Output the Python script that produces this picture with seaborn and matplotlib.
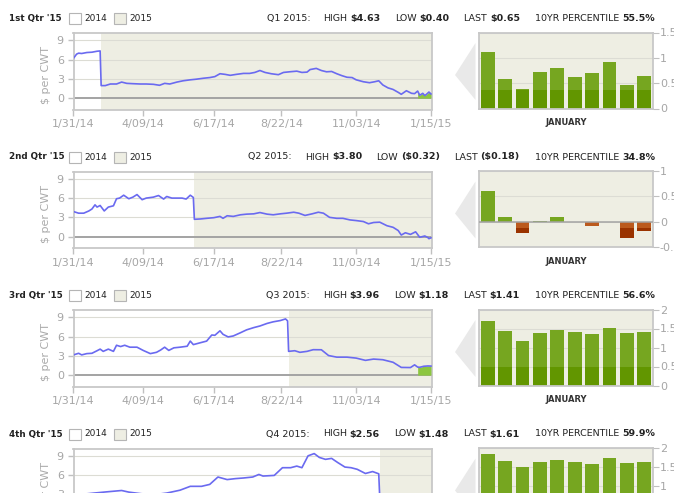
import numpy as np
import pandas as pd
import matplotlib
matplotlib.use('Agg')
import matplotlib.pyplot as plt
from matplotlib.patches import Rectangle, Polygon
import seaborn as sns

# ---------------- data ----------------
quarters = ["1st Qtr '15", "2nd Qtr '15", "3rd Qtr '15", "4th Qtr '15"]
contracts = ['Q1 2015:', 'Q2 2015:', 'Q3 2015:', 'Q4 2015:']
highs = ['$4.63', '$3.80', '$3.96', '$2.56']
lows = ['$0.40', '($0.32)', '$1.18', '$1.48']
lasts = ['$0.65', '($0.18)', '$1.41', '$1.61']
pctiles = ['55.5%', '34.8%', '56.6%', '59.9%']
legend_years = ['2014', '2015']

# date where the chart rolls from the 2014 contract to the 2015 contract
roll_dates = ['2014-02-27', '2014-05-29', '2014-08-29', '2014-11-26']

tick_dates = ['2014-01-31', '2014-04-09', '2014-06-17', '2014-08-22', '2014-11-03', '2015-01-15']
tick_labels = ['1/31/14', '4/09/14', '6/17/14', '8/22/14', '11/03/14', '1/15/15']

# days after 1/31/14 and $ per CWT
days_q1 = [0, 3, 5, 8, 13, 18, 23, 26, 27, 31, 36, 42, 47, 52, 58, 65, 71, 78, 84, 89, 94,
           101, 107, 114, 120, 127, 133, 138, 143, 148, 153, 159, 166, 172, 177, 182, 187,
           193, 200, 205, 211, 218, 223, 228, 231, 237, 242, 247, 252, 257, 262, 267, 272,
           276, 283, 289, 294, 298, 302, 307, 312, 317, 320, 325, 330, 333, 336, 338, 341,
           343, 345, 347, 349]
vals_q1 = [6.2, 6.85, 7.0, 6.95, 7.1, 7.15, 7.3, 7.35, 1.95, 1.95, 2.2, 2.2, 2.5, 2.3, 2.25,
           2.2, 2.2, 2.15, 2.0, 2.3, 2.2, 2.5, 2.7, 2.85, 2.95, 3.1, 3.2, 3.35, 3.8, 3.7, 3.55,
           3.7, 3.85, 3.85, 4.0, 4.3, 4.0, 3.8, 3.65, 4.0, 4.1, 4.2, 4.0, 4.05, 4.45, 4.63, 4.3,
           4.1, 4.15, 3.8, 3.5, 3.25, 3.2, 2.85, 2.55, 2.4, 2.55, 2.7, 2.05, 1.6, 1.35, 0.9,
           0.6, 1.15, 0.75, 0.7, 1.1, 0.45, 0.75, 0.40, 0.65, 0.95, 0.65]

days_q2 = [0, 5, 10, 15, 18, 21, 23, 26, 30, 34, 39, 42, 45, 49, 54, 58, 62, 67, 71, 78, 83,
           88, 91, 96, 101, 106, 110, 114, 117, 118, 124, 130, 137, 143, 146, 150, 156, 163,
           169, 176, 182, 189, 195, 202, 208, 215, 220, 226, 233, 239, 244, 250, 257, 263,
           270, 276, 283, 288, 293, 299, 306, 312, 317, 320, 324, 329, 334, 338, 343, 346,
           347, 349]
vals_q2 = [3.9, 3.65, 3.65, 4.0, 4.3, 4.95, 4.6, 4.85, 4.0, 4.6, 4.8, 5.9, 6.0, 6.45, 5.9,
           6.15, 6.55, 5.75, 6.0, 6.15, 6.4, 5.85, 6.25, 6.0, 6.0, 6.0, 5.85, 6.45, 6.1, 2.7,
           2.75, 2.85, 2.95, 3.15, 2.85, 3.25, 3.15, 3.4, 3.5, 3.55, 3.75, 3.5, 3.4, 3.55,
           3.65, 3.8, 3.65, 3.3, 3.55, 3.8, 3.65, 3.0, 2.85, 2.85, 2.6, 2.5, 2.35, 2.0, 2.2,
           2.25, 1.7, 1.45, 0.95, 0.25, 0.6, 0.35, 0.75, -0.1, 0.1, -0.15, -0.32, -0.18]

days_q3 = [0, 5, 8, 13, 18, 23, 26, 29, 34, 39, 42, 46, 50, 55, 62, 68, 75, 81, 85, 89, 93,
           98, 104, 111, 114, 117, 124, 130, 135, 138, 143, 146, 151, 156, 163, 169, 176, 182,
           189, 195, 202, 207, 209, 210, 216, 221, 228, 234, 242, 249, 257, 267, 276, 285,
           293, 302, 312, 320, 329, 333, 336, 338, 342, 346, 349]
vals_q3 = [3.15, 3.4, 3.15, 3.35, 3.4, 3.8, 4.05, 3.7, 4.05, 3.7, 4.65, 4.45, 4.65, 4.35,
           4.35, 3.85, 3.35, 3.55, 3.9, 4.35, 3.85, 4.25, 4.35, 4.5, 5.3, 4.75, 5.05, 5.3,
           6.25, 6.2, 6.9, 6.35, 5.95, 6.1, 6.6, 7.05, 7.4, 7.65, 8.05, 8.3, 8.5, 8.75, 8.45,
           3.7, 3.8, 3.55, 3.7, 3.96, 3.95, 3.05, 2.8, 2.8, 2.65, 2.3, 2.5, 2.4, 2.0, 1.2,
           1.18, 1.6, 1.25, 1.22, 1.38, 1.43, 1.41]

days_q4 = [0, 8, 20, 33, 47, 54, 66, 79, 91, 104, 114, 125, 133, 141, 150, 158, 166, 175,
           181, 185, 196, 204, 212, 218, 223, 229, 235, 240, 246, 252, 258, 265, 271, 277,
           285, 292, 298, 299, 305, 312, 320, 328, 336, 342, 349]
vals_q4 = [2.9, 3.0, 3.2, 3.4, 3.6, 3.35, 3.1, 2.95, 3.2, 3.65, 4.25, 4.25, 4.55, 5.7, 5.3,
           5.45, 5.55, 5.7, 6.1, 5.85, 5.95, 7.15, 7.15, 7.4, 7.15, 9.0, 9.35, 8.75, 8.45,
           8.6, 7.95, 7.25, 7.15, 6.9, 6.25, 6.55, 6.2, 2.45, 2.56, 2.3, 1.9, 1.48, 1.7, 1.55,
           1.61]

# January value of the spread, last 10 years
years = ['2005', '2006', '2007', '2008', '2009', '2010', '2011', '2012', '2013', '2014']
jan_q1 = [1.12, 0.58, 0.38, 0.72, 0.80, 0.62, 0.70, 0.92, 0.46, 0.64]
jan_q2 = [0.60, 0.10, -0.22, 0.02, 0.10, 0.0, -0.08, 0.0, -0.33, -0.19]
jan_q3 = [1.71, 1.43, 1.17, 1.37, 1.45, 1.40, 1.35, 1.51, 1.37, 1.40]
jan_q4 = [1.85, 1.65, 1.49, 1.62, 1.68, 1.62, 1.57, 1.73, 1.60, 1.62]
bar_lims = [(0, 1.5), (-0.5, 1), (0, 2), (0, 2)]
bar_ticks = [[0, 0.5, 1, 1.5], [-0.5, 0, 0.5, 1], [0, 0.5, 1, 1.5, 2], [0, 0.5, 1, 1.5, 2]]

line_days = [days_q1, days_q2, days_q3, days_q4]
line_vals = [vals_q1, vals_q2, vals_q3, vals_q4]
jan_vals = [jan_q1, jan_q2, jan_q3, jan_q4]

# ---------------- style ----------------
BEIGE = '#eeeee3'
BLUE = '#6a6af0'
FILL_GREEN = '#8cc63f'
GREEN_LT = '#76a620'
GREEN_DK = '#629600'
BROWN_LT = '#bb5a1e'
BROWN_DK = '#9a3300'
FRAME = '#c8c8c8'
TICK_COL = '#a6a6a6'
TEXT = '#222222'

W, H = 674, 493
ROW = 138.5
base = pd.Timestamp('2014-01-31')

fig = plt.figure(figsize=(W / 100, H / 100), dpi=100)
renderer = fig.canvas.get_renderer()


def fx(x):
    return x / W


def fy(y):
    return 1 - y / H


def rect(l, t, r, b):
    return [l / W, 1 - b / H, (r - l) / W, (b - t) / H]


def style_frame(ax):
    for s in ax.spines.values():
        s.set_color(FRAME)
        s.set_linewidth(1.3)


def draw_header(i, off):
    y = 18.5 + off
    fig.text(fx(9), fy(y), quarters[i], fontsize=6.3, fontweight='bold', va='center', color=TEXT)
    for (bx, tx), fc, lab in zip([(69, 84), (114, 129)], ['white', BEIGE], legend_years):
        fig.add_artist(Rectangle((fx(bx), fy(y + 5.5)), 12 / W, 11 / H, transform=fig.transFigure,
                                 fc=fc, ec='#b5b5b5', lw=0.8))
        fig.text(fx(tx), fy(y), lab, fontsize=6.5, va='center', color=TEXT)

    pieces = [(contracts[i], False), ('HIGH', False), (highs[i], True), ('LOW', False),
              (lows[i], True), ('LAST', False), (lasts[i], True),
              ('10YR PERCENTILE', False), (pctiles[i], True)]
    gaps = [0, 13, 3, 14, 3, 14, 3, 15, 3]
    arts = [fig.text(0, fy(y), t, fontsize=6.8, fontweight='bold' if b else 'normal',
                     va='center', color=TEXT) for t, b in pieces]
    widths = [a.get_window_extent(renderer).width for a in arts]
    x = 655 - sum(widths) - sum(gaps)
    for a, w, g in zip(arts, widths, gaps):
        x += g
        a.set_x(fx(x))
        x += w


def draw_line(ax, days, vals, roll):
    d = base + pd.to_timedelta(days, unit='D')
    v = np.array(vals, dtype=float)
    end = base + pd.Timedelta(days=350)
    ax.set_facecolor('white')
    ax.axvspan(pd.Timestamp(roll), end, color=BEIGE, lw=0, zorder=0)
    for g in [3, 6, 9]:
        ax.axhline(g, color='#dcdcd4', lw=0.8, zorder=1)
    ax.axhline(0, color='#a3a3a3', lw=1.4, zorder=2)
    jan = d >= pd.Timestamp('2015-01-01')
    if v[-1] > 0:
        ax.fill_between(d[jan], 0, v[jan], color=FILL_GREEN, lw=0, zorder=3)
    sns.lineplot(x=d, y=v, ax=ax, color=BLUE, lw=1.2, zorder=4)
    ax.set_xlim(base, end)
    ax.set_ylim(-1.77, 10.14)
    ax.set_yticks([0, 3, 6, 9])
    ax.set_xticks(pd.to_datetime(tick_dates))
    ax.set_xticklabels(tick_labels)
    ax.tick_params(colors='#c0c0c0', labelcolor=TICK_COL, labelsize=8, length=4, width=1, pad=3)
    ax.set_xlabel('')
    ax.set_ylabel('$ per CWT', fontsize=8, color='#aaaaaa')
    ax.yaxis.set_label_coords(-0.062, 0.45)
    style_frame(ax)


def draw_bars(ax, vals, lims, ticks):
    lo, hi = lims
    v = np.array(vals, dtype=float)
    thr = lo + 0.25 * (hi - lo)
    outer_cols = np.where(v >= 0, GREEN_LT, BROWN_DK)
    inner = np.where(v >= 0, np.minimum(v, max(thr, 0)), np.maximum(v, min(thr, 0)))
    inner_cols = np.where(v >= 0, GREEN_DK, BROWN_LT)
    ax.set_facecolor(BEIGE)
    ax.set_axisbelow(True)
    sns.barplot(x=years, y=v, hue=years, palette=dict(zip(years, outer_cols)), legend=False,
                width=0.79, saturation=1, ax=ax)
    sns.barplot(x=years, y=inner, hue=years, palette=dict(zip(years, inner_cols)), legend=False,
                width=0.79, saturation=1, ax=ax)
    if lo < 0:
        ax.axhline(0, color='#a3a3a3', lw=1.1, zorder=3)
    ax.set_xlim(-0.5, 9.5)
    ax.set_ylim(lo, hi)
    ax.set_yticks(ticks)
    ax.set_yticklabels([f'{t:g}' for t in ticks])
    ax.yaxis.tick_right()
    ax.grid(axis='y', color='#dcdcd4', lw=0.8)
    ax.set_xticks([])
    ax.set_ylabel('')
    ax.set_xlabel('JANUARY', fontsize=6, fontweight='bold', color='#333333', labelpad=7)
    ax.tick_params(axis='y', colors='#c0c0c0', labelcolor=TICK_COL, labelsize=8, length=4, pad=1)
    style_frame(ax)


for i in range(4):
    off = i * ROW
    draw_header(i, off)
    ax_line = fig.add_axes(rect(73.5, 33 + off, 432, 109.5 + off))
    draw_line(ax_line, line_days[i], line_vals[i], roll_dates[i])
    # arrow shape between the two panels
    tri = np.array([[fx(455), fy(75 + off)], [fx(475.5), fy(43 + off)], [fx(475.5), fy(100 + off)]])
    fig.add_artist(Polygon(tri, closed=True, transform=fig.transFigure, fc='#e9e9e9', ec='none'))
    ax_bar = fig.add_axes(rect(479, 32.5 + off, 653, 108.5 + off))
    draw_bars(ax_bar, jan_vals[i], bar_lims[i], bar_ticks[i])

fig.savefig('out.png', dpi=100)
